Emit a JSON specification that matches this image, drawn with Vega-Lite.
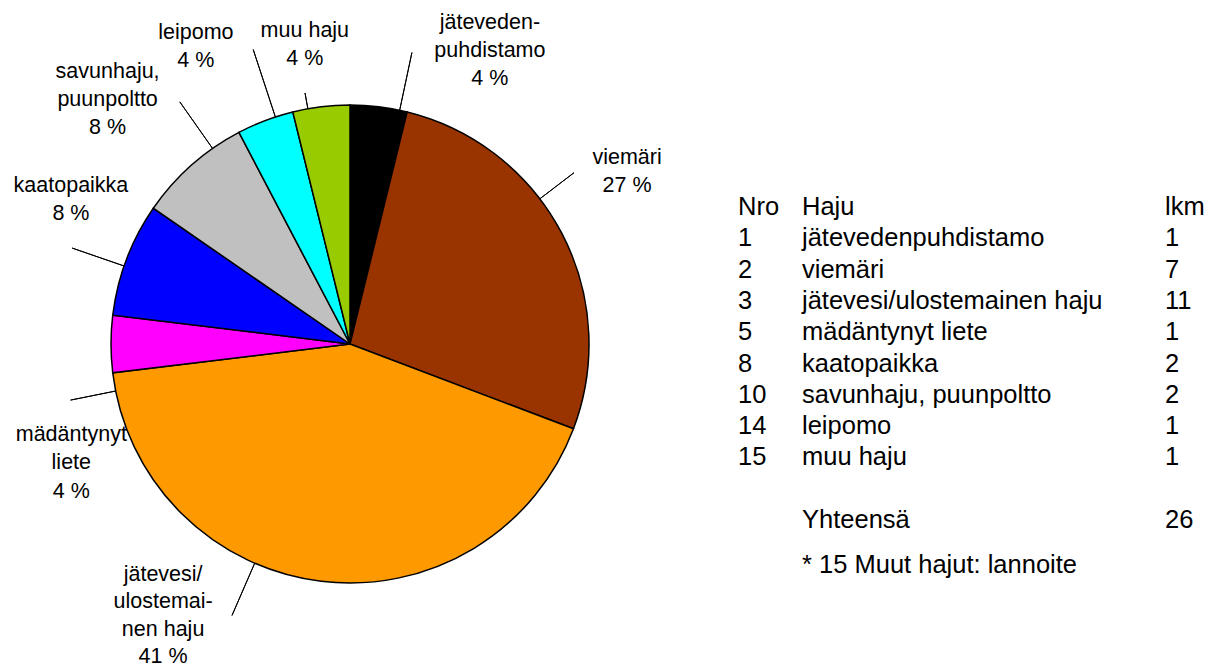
{
  "$schema": "https://vega.github.io/schema/vega-lite/v6.json",
  "padding": 0,
  "background": "white",
  "config": {"view": {"stroke": null}, "font": "Liberation Sans", "text": {"color": "black"}},
  "datasets": {
    "odours": [
      {"nro": 1, "haju": "jätevedenpuhdistamo", "lkm": 1, "label": ["jäteveden-", "puhdistamo", "4 %"]},
      {"nro": 2, "haju": "viemäri", "lkm": 7, "label": ["viemäri", "27 %"]},
      {"nro": 3, "haju": "jätevesi/ulostemainen haju", "lkm": 11, "label": ["jätevesi/", "ulostemai-", "nen haju", "41 %"]},
      {"nro": 5, "haju": "mädäntynyt liete", "lkm": 1, "label": ["mädäntynyt", "liete", "4 %"]},
      {"nro": 8, "haju": "kaatopaikka", "lkm": 2, "label": ["kaatopaikka", "8 %"]},
      {"nro": 10, "haju": "savunhaju, puunpoltto", "lkm": 2, "label": ["savunhaju,", "puunpoltto", "8 %"]},
      {"nro": 14, "haju": "leipomo", "lkm": 1, "label": ["leipomo", "4 %"]},
      {"nro": 15, "haju": "muu haju", "lkm": 1, "label": ["muu haju", "4 %"]}
    ],
    "tableExtra": [
      {"nro": "Nro", "haju": "Haju", "lkm": "lkm"},
      {"nro": "", "haju": "Yhteensä", "lkm": "26"}
    ],
    "notes": [
      {"haju": "* 15 Muut hajut: lannoite"}
    ]
  },
  "spacing": 38,
  "bounds": "flush",
  "hconcat": [
    {
      "width": 700,
      "height": 688,
      "data": {"name": "odours"},
      "transform": [
        {"window": [{"op": "sum", "field": "lkm", "as": "cumEnd"}], "sort": [{"field": "nro", "order": "ascending"}], "frame": [null, 0]}
      ],
      "layer": [
        {
          "mark": {"type": "arc", "outerRadius": 239, "stroke": "black", "strokeWidth": 1.5},
          "encoding": {
            "theta": {"field": "lkm", "type": "quantitative", "stack": true},
            "order": {"field": "nro", "type": "quantitative"},
            "color": {
              "field": "haju", "type": "nominal", "legend": null,
              "scale": {
                "domain": ["jätevedenpuhdistamo", "viemäri", "jätevesi/ulostemainen haju", "mädäntynyt liete", "kaatopaikka", "savunhaju, puunpoltto", "leipomo", "muu haju"],
                "range": ["#000000", "#993300", "#FF9900", "#FF00FF", "#0000FF", "#C0C0C0", "#00FFFF", "#99CC00"]
              }
            }
          }
        },
        {
          "transform": [{"filter": "datum.nro === 1"}],
          "layer": [
            {"mark": {"type": "arc", "innerRadius": 239, "outerRadius": 298, "thetaOffset": -0.0323, "theta2Offset": -0.0323, "fillOpacity": 0, "stroke": "black", "strokeWidth": 1},
             "encoding": {"theta": {"field": "cumEnd", "type": "quantitative", "stack": null}, "theta2": {"field": "cumEnd"}}},
            {"mark": {"type": "text", "radius": 325, "thetaOffset": 0.2033, "dy": -28, "align": "center", "baseline": "middle", "fontSize": 21.5, "lineHeight": 28},
             "encoding": {"theta": {"field": "cumEnd", "type": "quantitative", "stack": null}, "text": {"field": "label"}}}
          ]
        },
        {
          "transform": [{"filter": "datum.nro === 2"}],
          "layer": [
            {"mark": {"type": "arc", "innerRadius": 239, "outerRadius": 282, "thetaOffset": -1.0153, "theta2Offset": -1.0153, "fillOpacity": 0, "stroke": "black", "strokeWidth": 1},
             "encoding": {"theta": {"field": "cumEnd", "type": "quantitative", "stack": null}, "theta2": {"field": "cumEnd"}}},
            {"mark": {"type": "text", "radius": 326, "thetaOffset": -0.9175, "dy": -14, "align": "center", "baseline": "middle", "fontSize": 21.5, "lineHeight": 28},
             "encoding": {"theta": {"field": "cumEnd", "type": "quantitative", "stack": null}, "text": {"field": "label"}}}
          ]
        },
        {
          "transform": [{"filter": "datum.nro === 3"}],
          "layer": [
            {"mark": {"type": "arc", "innerRadius": 239, "outerRadius": 296, "thetaOffset": -1.0399, "theta2Offset": -1.0399, "fillOpacity": 0, "stroke": "black", "strokeWidth": 1},
             "encoding": {"theta": {"field": "cumEnd", "type": "quantitative", "stack": null}, "theta2": {"field": "cumEnd"}}},
            {"mark": {"type": "text", "radius": 330, "thetaOffset": -0.8479, "dy": -41, "align": "center", "baseline": "middle", "fontSize": 21.5, "lineHeight": 27.5},
             "encoding": {"theta": {"field": "cumEnd", "type": "quantitative", "stack": null}, "text": {"field": "label"}}}
          ]
        },
        {
          "transform": [{"filter": "datum.nro === 5"}],
          "layer": [
            {"mark": {"type": "arc", "innerRadius": 239, "outerRadius": 285, "thetaOffset": -0.3189, "theta2Offset": -0.3189, "fillOpacity": 0, "stroke": "black", "strokeWidth": 1},
             "encoding": {"theta": {"field": "cumEnd", "type": "quantitative", "stack": null}, "theta2": {"field": "cumEnd"}}},
            {"mark": {"type": "text", "radius": 303, "thetaOffset": -0.5240, "dy": -28, "align": "center", "baseline": "middle", "fontSize": 21.5, "lineHeight": 28.5},
             "encoding": {"theta": {"field": "cumEnd", "type": "quantitative", "stack": null}, "text": {"field": "label"}}}
          ]
        },
        {
          "transform": [{"filter": "datum.nro === 8"}],
          "layer": [
            {"mark": {"type": "arc", "innerRadius": 239, "outerRadius": 294, "thetaOffset": -0.2717, "theta2Offset": -0.2717, "fillOpacity": 0, "stroke": "black", "strokeWidth": 1},
             "encoding": {"theta": {"field": "cumEnd", "type": "quantitative", "stack": null}, "theta2": {"field": "cumEnd"}}},
            {"mark": {"type": "text", "radius": 314, "thetaOffset": -0.1278, "dy": -14, "align": "center", "baseline": "middle", "fontSize": 21.5, "lineHeight": 28},
             "encoding": {"theta": {"field": "cumEnd", "type": "quantitative", "stack": null}, "text": {"field": "label"}}}
          ]
        },
        {
          "transform": [{"filter": "datum.nro === 10"}],
          "layer": [
            {"mark": {"type": "arc", "innerRadius": 239, "outerRadius": 296, "thetaOffset": -0.1293, "theta2Offset": -0.1293, "fillOpacity": 0, "stroke": "black", "strokeWidth": 1},
             "encoding": {"theta": {"field": "cumEnd", "type": "quantitative", "stack": null}, "theta2": {"field": "cumEnd"}}},
            {"mark": {"type": "text", "radius": 344, "thetaOffset": -0.2986, "dy": -28, "align": "center", "baseline": "middle", "fontSize": 21.5, "lineHeight": 28},
             "encoding": {"theta": {"field": "cumEnd", "type": "quantitative", "stack": null}, "text": {"field": "label"}}}
          ]
        },
        {
          "transform": [{"filter": "datum.nro === 14"}],
          "layer": [
            {"mark": {"type": "arc", "innerRadius": 239, "outerRadius": 310, "thetaOffset": -0.0759, "theta2Offset": -0.0759, "fillOpacity": 0, "stroke": "black", "strokeWidth": 1},
             "encoding": {"theta": {"field": "cumEnd", "type": "quantitative", "stack": null}, "theta2": {"field": "cumEnd"}}},
            {"mark": {"type": "text", "radius": 335, "thetaOffset": -0.2365, "dy": -14, "align": "center", "baseline": "middle", "fontSize": 21.5, "lineHeight": 28},
             "encoding": {"theta": {"field": "cumEnd", "type": "quantitative", "stack": null}, "text": {"field": "label"}}}
          ]
        },
        {
          "transform": [{"filter": "datum.nro === 15"}],
          "layer": [
            {"mark": {"type": "arc", "innerRadius": 239, "outerRadius": 255, "thetaOffset": -0.1773, "theta2Offset": -0.1773, "fillOpacity": 0, "stroke": "black", "strokeWidth": 1},
             "encoding": {"theta": {"field": "cumEnd", "type": "quantitative", "stack": null}, "theta2": {"field": "cumEnd"}}},
            {"mark": {"type": "text", "radius": 302, "thetaOffset": -0.1501, "dy": -14, "align": "center", "baseline": "middle", "fontSize": 21.5, "lineHeight": 28},
             "encoding": {"theta": {"field": "cumEnd", "type": "quantitative", "stack": null}, "text": {"field": "label"}}}
          ]
        }
      ]
    },
    {
      "spacing": 0,
      "bounds": "flush",
      "hconcat": [
        {
          "width": 64,
          "height": 688,
          "layer": [
            {
              "data": {"name": "odours"},
              "mark": {"type": "text", "align": "left", "baseline": "middle", "fontSize": 25.5},
              "encoding": {
                "x": {"datum": "Nro", "type": "nominal", "scale": {"type": "point", "padding": 0, "align": 0}, "axis": null},
                "y": {"field": "haju", "type": "nominal", "axis": null, "scale": {"type": "point", "padding": 0, "range": [207, 551.3], "domain": ["Haju", "jätevedenpuhdistamo", "viemäri", "jätevesi/ulostemainen haju", "mädäntynyt liete", "kaatopaikka", "savunhaju, puunpoltto", "leipomo", "muu haju", " ", "Yhteensä", "* 15 Muut hajut: lannoite"]}},
                "text": {"field": "nro", "type": "nominal"}
              }
            },
            {
              "data": {"name": "tableExtra"},
              "mark": {"type": "text", "align": "left", "baseline": "middle", "fontSize": 25.5},
              "encoding": {
                "x": {"datum": "Nro", "type": "nominal"},
                "y": {"field": "haju", "type": "nominal"},
                "text": {"field": "nro", "type": "nominal"}
              }
            }
          ]
        },
        {
          "width": 363,
          "height": 688,
          "layer": [
            {
              "data": {"name": "odours"},
              "mark": {"type": "text", "align": "left", "baseline": "middle", "fontSize": 25.5},
              "encoding": {
                "x": {"datum": "Haju", "type": "nominal", "scale": {"type": "point", "padding": 0, "align": 0}, "axis": null},
                "y": {"field": "haju", "type": "nominal", "axis": null, "scale": {"type": "point", "padding": 0, "range": [207, 551.3], "domain": ["Haju", "jätevedenpuhdistamo", "viemäri", "jätevesi/ulostemainen haju", "mädäntynyt liete", "kaatopaikka", "savunhaju, puunpoltto", "leipomo", "muu haju", " ", "Yhteensä", "* 15 Muut hajut: lannoite"]}},
                "text": {"field": "haju", "type": "nominal"}
              }
            },
            {
              "data": {"name": "tableExtra"},
              "mark": {"type": "text", "align": "left", "baseline": "middle", "fontSize": 25.5},
              "encoding": {
                "x": {"datum": "Haju", "type": "nominal"},
                "y": {"field": "haju", "type": "nominal"},
                "text": {"field": "haju", "type": "nominal"}
              }
            },
            {
              "data": {"name": "notes"},
              "mark": {"type": "text", "align": "left", "baseline": "middle", "fontSize": 25.5, "dy": 14},
              "encoding": {
                "x": {"datum": "Haju", "type": "nominal"},
                "y": {"field": "haju", "type": "nominal"},
                "text": {"field": "haju", "type": "nominal"}
              }
            }
          ]
        },
        {
          "width": 60,
          "height": 688,
          "layer": [
            {
              "data": {"name": "odours"},
              "mark": {"type": "text", "align": "left", "baseline": "middle", "fontSize": 25.5},
              "encoding": {
                "x": {"datum": "lkm", "type": "nominal", "scale": {"type": "point", "padding": 0, "align": 0}, "axis": null},
                "y": {"field": "haju", "type": "nominal", "axis": null, "scale": {"type": "point", "padding": 0, "range": [207, 551.3], "domain": ["Haju", "jätevedenpuhdistamo", "viemäri", "jätevesi/ulostemainen haju", "mädäntynyt liete", "kaatopaikka", "savunhaju, puunpoltto", "leipomo", "muu haju", " ", "Yhteensä", "* 15 Muut hajut: lannoite"]}},
                "text": {"field": "lkm", "type": "nominal"}
              }
            },
            {
              "data": {"name": "tableExtra"},
              "mark": {"type": "text", "align": "left", "baseline": "middle", "fontSize": 25.5},
              "encoding": {
                "x": {"datum": "lkm", "type": "nominal"},
                "y": {"field": "haju", "type": "nominal"},
                "text": {"field": "lkm", "type": "nominal"}
              }
            }
          ]
        }
      ]
    }
  ]
}
